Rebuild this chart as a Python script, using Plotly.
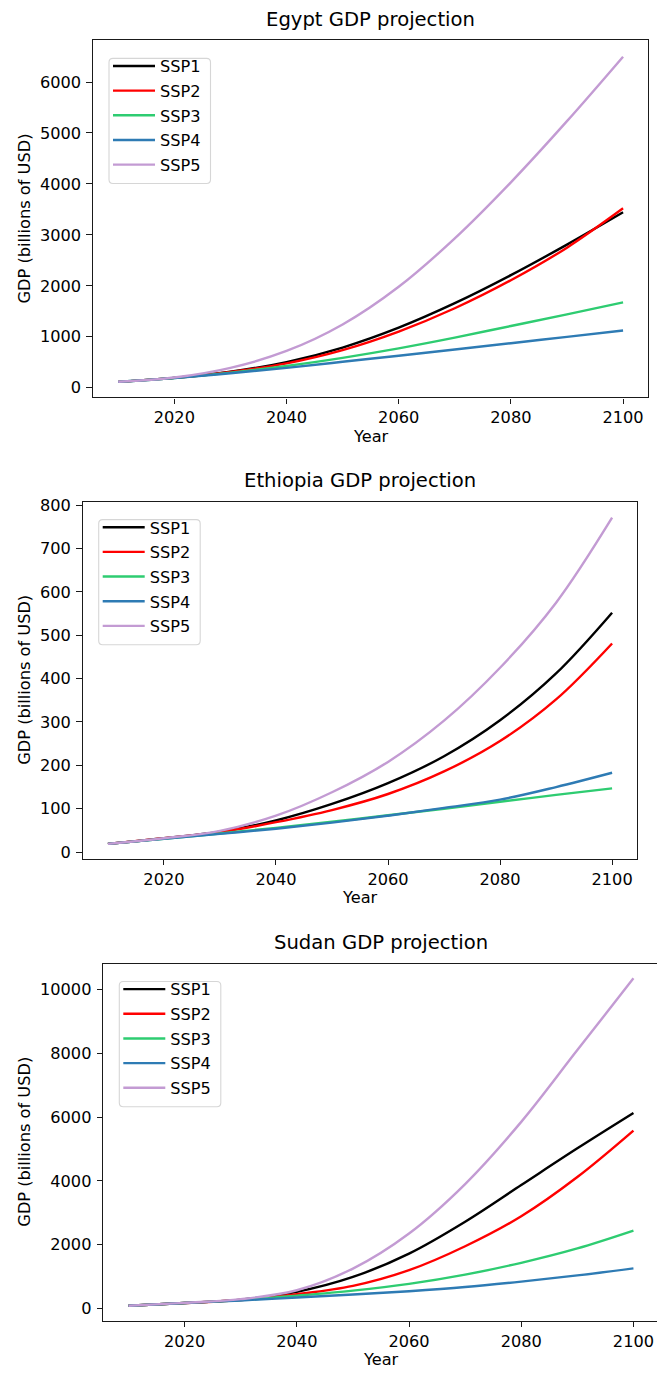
import plotly.graph_objects as go

# ---------------------------------------------------------------- data
years = [2010, 2020, 2030, 2040, 2050, 2060, 2070, 2080, 2090, 2100]
scenarios = ["SSP1", "SSP2", "SSP3", "SSP4", "SSP5"]

# GDP, billions of USD
egypt_ssp1 = [117, 195, 315, 505, 790, 1180, 1660, 2210, 2810, 3443]
egypt_ssp2 = [117, 195, 310, 480, 740, 1103, 1560, 2110, 2750, 3521]
egypt_ssp3 = [117, 193, 298, 428, 588, 773, 983, 1213, 1440, 1676]
egypt_ssp4 = [117, 192, 285, 390, 510, 630, 750, 875, 1000, 1123]
egypt_ssp5 = [117, 202, 392, 722, 1242, 1982, 2932, 4032, 5232, 6497]

ethiopia_ssp1 = [19, 32, 47, 73, 111, 159, 221, 304, 412, 552]
ethiopia_ssp2 = [19, 32, 46, 69, 97, 134, 186, 256, 352, 481]
ethiopia_ssp3 = [19, 31, 43, 56, 70, 85, 100, 116, 132, 147]
ethiopia_ssp4 = [19, 31, 42, 54, 68, 84, 102, 121, 150, 183]
ethiopia_ssp5 = [19, 32, 49, 84, 138, 208, 303, 425, 575, 771]

sudan_ssp1 = [84, 170, 275, 520, 987, 1720, 2720, 3870, 5020, 6128]
sudan_ssp2 = [84, 170, 265, 445, 707, 1200, 1950, 2890, 4120, 5576]
sudan_ssp3 = [84, 170, 260, 400, 560, 770, 1060, 1430, 1880, 2439]
sudan_ssp4 = [84, 170, 250, 343, 435, 540, 670, 841, 1035, 1256]
sudan_ssp5 = [84, 175, 290, 570, 1250, 2350, 3900, 5850, 8100, 10350]

# ---------------------------------------------------------------- style
W, H = 657, 1375
FONT = "DejaVu Sans"
TICK_SIZE = 16.2
TITLE_SIZE = 19.6
AXES_W = 555.3  # full width of one axes box in pixels
colors = ["#000000", "#ff0000", "#2ecc71", "#2e7bb4", "#c39bd3"]

# axes boxes in pixels: left, right, top, bottom
panels = [
    dict(title="Egypt GDP projection",
         series=[egypt_ssp1, egypt_ssp2, egypt_ssp3, egypt_ssp4, egypt_ssp5],
         box=(93, 648.3, 34.7, 394), xrange=[2005.5, 2104.5],
         yrange=[-189, 6815], dtick=1000, right_spine=True),
    dict(title="Ethiopia GDP projection",
         series=[ethiopia_ssp1, ethiopia_ssp2, ethiopia_ssp3, ethiopia_ssp4, ethiopia_ssp5],
         box=(82.7, 637.3, 499, 858.3), xrange=[2005.5, 2104.5],
         yrange=[-15.1, 807.7], dtick=100, right_spine=True),
    dict(title="Sudan GDP projection",
         series=[sudan_ssp1, sudan_ssp2, sudan_ssp3, sudan_ssp4, sudan_ssp5],
         box=(103.3, 657, 964, 1323.3), xrange=[2005.5, 2104.2],
         yrange=[-383, 10810], dtick=2000, right_spine=False),
]


def px_x(v):
    return v / W


def px_y(v):
    return 1 - v / H


def rounded_box(x0, y0, x1, y1, r):
    """SVG path (paper coordinates) for a rectangle with rounded corners, given in pixels."""
    pts = [
        ("M", [(x0 + r, y0)]),
        ("L", [(x1 - r, y0)]), ("Q", [(x1, y0), (x1, y0 + r)]),
        ("L", [(x1, y1 - r)]), ("Q", [(x1, y1), (x1 - r, y1)]),
        ("L", [(x0 + r, y1)]), ("Q", [(x0, y1), (x0, y1 - r)]),
        ("L", [(x0, y0 + r)]), ("Q", [(x0, y0), (x0 + r, y0)]),
    ]
    out = []
    for cmd, coords in pts:
        out.append(cmd + " ".join(f"{px_x(x):.5f},{px_y(y):.5f}" for x, y in coords))
    return " ".join(out) + " Z"


fig = go.Figure()
annotations = []
shapes = []
layout_axes = {}

for i, p in enumerate(panels):
    n = "" if i == 0 else str(i + 1)
    legend_name = "legend" + n
    left, right, top, bottom = p["box"]
    center_x = left + AXES_W / 2

    for k, (name, vals) in enumerate(zip(scenarios, p["series"])):
        fig.add_trace(go.Scatter(
            x=years, y=vals, name=name, mode="lines",
            line=dict(color=colors[k], width=2.4, shape="spline", smoothing=1.0),
            xaxis="x" + n, yaxis="y" + n,
            legend=legend_name, legendgroup=f"{legend_name}_{name}",
        ))

    axis_common = dict(
        showgrid=False, zeroline=False, showline=True,
        linecolor="#1a1a1a", linewidth=1.2,
        ticks="outside", ticklen=5.5, tickwidth=1.2, tickcolor="#1a1a1a",
        tickfont=dict(family=FONT, size=TICK_SIZE, color="#000000"),
        tickformat="d",
    )
    layout_axes["xaxis" + n] = dict(
        axis_common, domain=[px_x(left), px_x(right)], range=p["xrange"],
        anchor="y" + n, tick0=2020, dtick=20, mirror=True,
    )
    layout_axes["yaxis" + n] = dict(
        axis_common, domain=[px_y(bottom), px_y(top)], range=p["yrange"],
        anchor="x" + n, tick0=0, dtick=p["dtick"],
        mirror=p["right_spine"], ticklabelstandoff=2,
    )

    # legend frame with rounded corners, entries drawn by the legend itself
    shapes.append(dict(
        type="path", xref="paper", yref="paper", layer="above",
        path=rounded_box(left + 16, top + 18, left + 117.5, top + 144, 4),
        fillcolor="rgba(255,255,255,0.8)", line=dict(color="#d6d6d6", width=1.1),
    ))
    layout_axes[legend_name] = dict(
        x=px_x(left + 15), y=px_y(top + 8.5), xanchor="left", yanchor="top",
        xref="paper", yref="paper",
        bgcolor="rgba(0,0,0,0)", borderwidth=0,
        font=dict(family=FONT, size=TICK_SIZE, color="#000000"),
        tracegroupgap=0.6, itemwidth=42,
    )

    annotations.append(dict(
        text=p["title"], x=px_x(center_x), y=px_y(top - 21),
        xref="paper", yref="paper", xanchor="center", yanchor="middle",
        showarrow=False, font=dict(family=FONT, size=TITLE_SIZE, color="#000000"),
    ))
    annotations.append(dict(
        text="Year", x=px_x(center_x), y=px_y(bottom + 39),
        xref="paper", yref="paper", xanchor="center", yanchor="middle",
        showarrow=False, font=dict(family=FONT, size=TICK_SIZE, color="#000000"),
    ))
    annotations.append(dict(
        text="GDP (billions of USD)", x=px_x(24.5), y=px_y((top + bottom) / 2),
        xref="paper", yref="paper", xanchor="center", yanchor="middle",
        textangle=-90, showarrow=False,
        font=dict(family=FONT, size=TICK_SIZE, color="#000000"),
    ))

fig.update_layout(
    width=W, height=H, autosize=False,
    margin=dict(l=0, r=0, t=0, b=0),
    paper_bgcolor="white", plot_bgcolor="white",
    font=dict(family=FONT, size=TICK_SIZE, color="#000000"),
    annotations=annotations,
    shapes=shapes,
    **layout_axes,
)

fig.write_html("out.html")
